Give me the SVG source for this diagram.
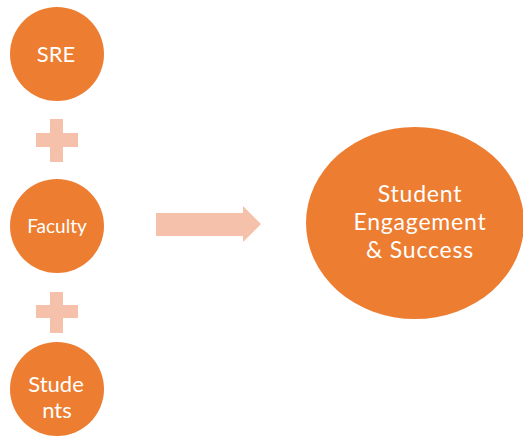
<svg xmlns="http://www.w3.org/2000/svg" width="523" height="444" viewBox="0 0 523 444">
  <style>
    .node { fill: #ED7D31; }
    .conn { fill: #F5C1AB; }
    .label { fill: #FFFFFF; font-family: Lato, "Open Sans", "Liberation Sans", sans-serif; text-anchor: middle; }
    .big { font-size: 23px; letter-spacing: 0.8px; }
  </style>
  <rect width="523" height="444" fill="#FFFFFF"/>

  <g id="sre">
    <circle class="node" cx="57" cy="54" r="47"/>
    <text class="label" x="56" y="62" font-size="22">SRE</text>
  </g>

  <g id="faculty">
    <circle class="node" cx="57" cy="226" r="47"/>
    <text class="label" x="57" y="233" font-size="19">Faculty</text>
  </g>

  <g id="students">
    <circle class="node" cx="57" cy="389" r="47"/>
    <text class="label" x="56" y="392" font-size="22">Stude</text>
    <text class="label" x="57" y="418" font-size="22">nts</text>
  </g>

  <g id="outcome">
    <ellipse class="node" cx="415" cy="223" rx="109" ry="96"/>
    <text class="label big" x="420" y="202">Student</text>
    <text class="label big" x="420" y="230">Engagement</text>
    <text class="label big" x="420" y="258">&amp; Success</text>
  </g>

  <g id="connectors">
    <!-- plus signs between the contributing nodes -->
    <path class="conn" d="M50 119 H63 V133 H78 V147 H63 V162 H50 V147 H36 V133 H50 Z"/>
    <path class="conn" d="M50 292 H63 V305 H78 V318 H63 V333 H50 V318 H36 V305 H50 Z"/>
    <!-- block arrow toward the outcome -->
    <path class="conn" d="M156 213 H243 V206 L261 224 L243 242 V236 H156 Z"/>
  </g>
</svg>
